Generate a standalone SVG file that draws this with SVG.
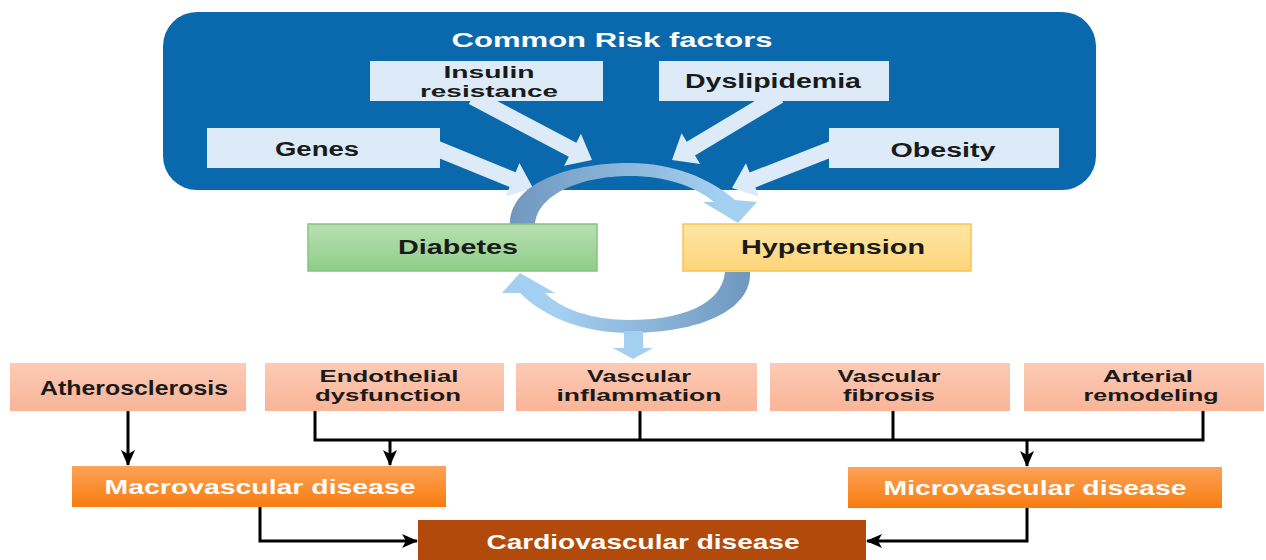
<svg xmlns="http://www.w3.org/2000/svg" width="1266" height="560" viewBox="0 0 1266 560">
<style>
.t{font-family:"Liberation Sans",Arial,sans-serif;font-weight:bold;text-anchor:middle}
.dk{fill:#1a1a1a;font-size:20px}
.d2{fill:#1a1a1a;font-size:16.5px}
.wt{fill:#ffffff;font-size:21px}
.rf{fill:#dcebf7}
.fat{fill:#dcebf7}
.pink{fill:url(#gPink)}
.orange{fill:url(#gOrange)}
.ln{fill:none;stroke:#000;stroke-width:3}
</style>
<defs>
<linearGradient id="gPink" x1="0" y1="0" x2="0" y2="1"><stop offset="0" stop-color="#fccbb5"/><stop offset="1" stop-color="#f9b497"/></linearGradient>
<linearGradient id="gOrange" x1="0" y1="0" x2="0" y2="1"><stop offset="0" stop-color="#fda258"/><stop offset="1" stop-color="#f77c0e"/></linearGradient>
<linearGradient id="gGreen" x1="0" y1="0" x2="0" y2="1"><stop offset="0" stop-color="#b8e0b2"/><stop offset="1" stop-color="#8fcd88"/></linearGradient>
<linearGradient id="gYellow" x1="0" y1="0" x2="0" y2="1"><stop offset="0" stop-color="#fee7a4"/><stop offset="1" stop-color="#fdd47a"/></linearGradient>
<linearGradient id="gTop" gradientUnits="userSpaceOnUse" x1="515" y1="0" x2="720" y2="0"><stop offset="0" stop-color="#7199c0"/><stop offset="1" stop-color="#a3cff0"/></linearGradient>
<linearGradient id="gBot" gradientUnits="userSpaceOnUse" x1="745" y1="0" x2="560" y2="0"><stop offset="0" stop-color="#7199c0"/><stop offset="1" stop-color="#a3cff0"/></linearGradient>
<marker id="ah" markerUnits="userSpaceOnUse" markerWidth="16" markerHeight="14" refX="15" refY="7" orient="auto">
<path d="M0,0 L16,7 L0,14 L4,7 Z" fill="#000"/>
</marker>
</defs>

<g id="risk-panel">
<rect x="163" y="12" width="933" height="178" rx="34" fill="#0a68ac"/>
<text class="t wt" x="612" y="47" textLength="321" lengthAdjust="spacingAndGlyphs">Common Risk factors</text>
</g>

<g id="risk-arrows">
<path class="fat" transform="translate(533,188) rotate(22.2)" d="M-110,-8 L-22,-8 L-22,-18 L0,0 L-22,18 L-22,8 L-110,8 Z"/>
<path class="fat" transform="translate(592,160) rotate(27.8)" d="M-135,-8 L-22,-8 L-22,-18 L0,0 L-22,18 L-22,8 L-135,8 Z"/>
<path class="fat" transform="translate(672,160) rotate(149)" d="M-125,-8 L-22,-8 L-22,-18 L0,0 L-22,18 L-22,8 L-125,8 Z"/>
<path class="fat" transform="translate(732,188) rotate(158.6)" d="M-112,-8 L-22,-8 L-22,-18 L0,0 L-22,18 L-22,8 L-112,8 Z"/>
</g>

<g id="insulin">
<rect class="rf" x="370" y="61" width="233" height="40"/>
<text class="t d2" x="489" y="78" textLength="91" lengthAdjust="spacingAndGlyphs">Insulin</text>
<text class="t d2" x="489" y="97" textLength="138" lengthAdjust="spacingAndGlyphs">resistance</text>
</g>
<g id="dyslipidemia">
<rect class="rf" x="659" y="61" width="230" height="40"/>
<text class="t dk" x="773" y="88" textLength="176" lengthAdjust="spacingAndGlyphs">Dyslipidemia</text>
</g>
<g id="genes">
<rect class="rf" x="207" y="128" width="233" height="40"/>
<text class="t dk" x="317" y="156" textLength="84" lengthAdjust="spacingAndGlyphs">Genes</text>
</g>
<g id="obesity">
<rect class="rf" x="829" y="128" width="230" height="40"/>
<text class="t dk" x="943" y="157" textLength="105" lengthAdjust="spacingAndGlyphs">Obesity</text>
</g>

<g id="cycle">
<path fill="url(#gTop)" d="M510,226 C508,185 565,163 630,163 C672,163 710,178 735,200 L757,202 L738,223 L703,202 L714,202 C695,186 665,176 630,176 C580,176 536,195 535,226 Z"/>
<path fill="url(#gBot)" d="M725,272 C722,305 680,320 630,320 C590,320 560,308 545,293 L555,293 L520,273 L502,293 L520,293 C545,318 585,333 630,333 C700,333 752,310 750,272 Z"/>
<path d="M624,331 L643,331 L643,348 L653,348 L633,359 L613,348 L624,348 Z" fill="#a3cff0"/>
</g>

<g id="diabetes">
<rect x="308" y="224" width="289" height="47" fill="url(#gGreen)" stroke="#86c47f" stroke-width="1.5"/>
<text class="t dk" x="458" y="254" textLength="120" lengthAdjust="spacingAndGlyphs">Diabetes</text>
</g>
<g id="hypertension">
<rect x="683" y="224" width="288" height="47" fill="url(#gYellow)" stroke="#f7c455" stroke-width="1.5"/>
<text class="t dk" x="833" y="254" textLength="184" lengthAdjust="spacingAndGlyphs">Hypertension</text>
</g>

<g id="atherosclerosis">
<rect class="pink" x="10" y="363" width="236" height="48"/>
<text class="t dk" x="134" y="395" textLength="188" lengthAdjust="spacingAndGlyphs">Atherosclerosis</text>
</g>
<g id="endothelial">
<rect class="pink" x="265" y="363" width="239" height="48"/>
<text class="t d2" x="389" y="382" textLength="139" lengthAdjust="spacingAndGlyphs">Endothelial</text>
<text class="t d2" x="388" y="401" textLength="146" lengthAdjust="spacingAndGlyphs">dysfunction</text>
</g>
<g id="inflammation">
<rect class="pink" x="516" y="363" width="241" height="48"/>
<text class="t d2" x="639" y="382" textLength="104" lengthAdjust="spacingAndGlyphs">Vascular</text>
<text class="t d2" x="639" y="401" textLength="165" lengthAdjust="spacingAndGlyphs">inflammation</text>
</g>
<g id="fibrosis">
<rect class="pink" x="770" y="363" width="240" height="48"/>
<text class="t d2" x="889" y="382" textLength="103" lengthAdjust="spacingAndGlyphs">Vascular</text>
<text class="t d2" x="889" y="401" textLength="92" lengthAdjust="spacingAndGlyphs">fibrosis</text>
</g>
<g id="remodeling">
<rect class="pink" x="1024" y="363" width="240" height="48"/>
<text class="t d2" x="1148" y="382" textLength="90" lengthAdjust="spacingAndGlyphs">Arterial</text>
<text class="t d2" x="1151" y="401" textLength="135" lengthAdjust="spacingAndGlyphs">remodeling</text>
</g>

<g id="macrovascular">
<rect class="orange" x="72" y="466" width="374" height="41"/>
<text class="t wt" x="260" y="494" textLength="311" lengthAdjust="spacingAndGlyphs">Macrovascular disease</text>
</g>
<g id="microvascular">
<rect class="orange" x="848" y="467" width="374" height="41"/>
<text class="t wt" x="1035" y="495" textLength="303" lengthAdjust="spacingAndGlyphs">Microvascular disease</text>
</g>
<g id="cardiovascular">
<rect x="418" y="520" width="448" height="40" fill="#b24a0b"/>
<text class="t wt" x="643" y="549" textLength="313" lengthAdjust="spacingAndGlyphs">Cardiovascular disease</text>
</g>

<g id="connectors">
<path class="ln" d="M128,411 V465" marker-end="url(#ah)"/>
<path class="ln" d="M315,411 V440 H1203 V411"/>
<path class="ln" d="M640,411 V440"/>
<path class="ln" d="M893,411 V440"/>
<path class="ln" d="M390,440 V465" marker-end="url(#ah)"/>
<path class="ln" d="M1027,440 V466" marker-end="url(#ah)"/>
<path class="ln" d="M260,507 V541 H417" marker-end="url(#ah)"/>
<path class="ln" d="M1027,508 V541 H867" marker-end="url(#ah)"/>
</g>
</svg>
